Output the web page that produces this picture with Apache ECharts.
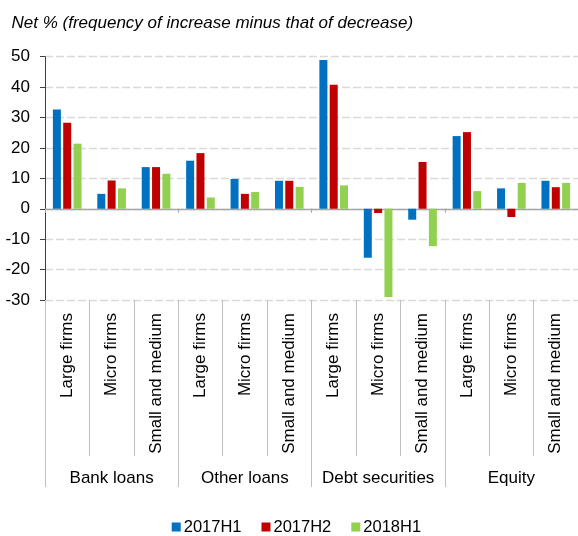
<!DOCTYPE html>
<html>
<head>
<meta charset="utf-8">
<script src="https://cdn.jsdelivr.net/npm/echarts@6/dist/echarts.min.js"></script>
<style>html,body{margin:0;padding:0;background:#fff}#c{width:578px;height:536px}</style>
</head>
<body>
<div id="c"></div>
<script>
var groups = ['Bank loans', 'Other loans', 'Debt securities', 'Equity'];
var subCats = ['Large firms', 'Micro firms', 'Small and medium'];
var categories = [];
groups.forEach(function (g) { subCats.forEach(function (s) { categories.push(s); }); });
var seriesNames = ['2017H1', '2017H2', '2018H1'];
var s2017H1 = [32.6, 4.9, 13.7, 15.8, 9.8, 9.2, 48.9, -16.1, -3.6, 23.9, 6.7, 9.2];
var s2017H2 = [28.3, 9.3, 13.7, 18.3, 4.9, 9.2, 40.8, -1.4, 15.4, 25.2, -2.7, 7.1];
var s2018H1 = [21.4, 6.7, 11.5, 3.7, 5.5, 7.2, 7.7, -29.0, -12.3, 5.8, 8.5, 8.5];
var colors = ['#0070C0', '#C00000', '#92D050'];
var subtitle = 'Net % (frequency of increase minus that of decrease)';

var font = "'Liberation Sans', Arial, sans-serif";
var chart = echarts.init(document.getElementById('c'));
var values = [s2017H1, s2017H2, s2018H1];
chart.setOption({
  animation: false,
  textStyle: { fontFamily: font },
  title: {
    text: subtitle, left: 11.5, top: 15, padding: 0,
    textStyle: { fontFamily: font, fontSize: 17, fontStyle: 'italic', fontWeight: 'normal', color: '#000' }
  },
  legend: {
    data: seriesNames, left: 171.7, top: 518.5, padding: 0, icon: 'rect',
    itemWidth: 9, itemHeight: 9, itemGap: 20,
    textStyle: { fontFamily: font, fontSize: 16.5, color: '#000', padding: [0, 0, 0, -2] }
  },
  grid: { left: 45, right: -9, top: 56.7, bottom: 236, containLabel: false },
  yAxis: {
    type: 'value', min: -30, max: 50, interval: 10,
    axisLine: { show: true, lineStyle: { color: '#404040', width: 1 } },
    axisTick: { show: true, length: 5, lineStyle: { color: '#404040' } },
    axisLabel: { fontSize: 17, color: '#000', margin: 15, fontFamily: font },
    splitLine: { show: true, lineStyle: { color: '#D9D9D9', type: [8, 3], width: 1.3 } }
  },
  xAxis: [
    {
      type: 'category', data: categories,
      axisLine: { show: true, onZero: true, lineStyle: { color: '#A6A6A6', width: 1.3 } },
      axisTick: { show: true, length: 4, lineStyle: { color: '#A6A6A6' } },
      axisLabel: { show: false }, splitLine: { show: false }
    },
    {
      type: 'category', data: categories, position: 'bottom',
      axisLine: { show: false, onZero: false },
      axisTick: { show: true, length: 156, lineStyle: { color: '#BFBFBF' } },
      axisLabel: { show: true, rotate: 90, margin: 13, fontSize: 17, color: '#000', fontFamily: font, interval: 0 },
      splitLine: { show: false }
    },
    {
      type: 'category', data: groups, position: 'bottom',
      axisLine: { show: false, onZero: false },
      axisTick: { show: true, length: 187, lineStyle: { color: '#BFBFBF' } },
      axisLabel: { show: true, margin: 170, fontSize: 17, color: '#000', fontFamily: font, interval: 0 },
      splitLine: { show: false }
    }
  ],
  series: seriesNames.map(function (n, i) {
    return {
      name: n, type: 'bar', xAxisIndex: 0, data: values[i],
      barWidth: 8, barGap: '29%',
      itemStyle: { color: colors[i] }
    };
  })
});
</script>
</body>
</html>
